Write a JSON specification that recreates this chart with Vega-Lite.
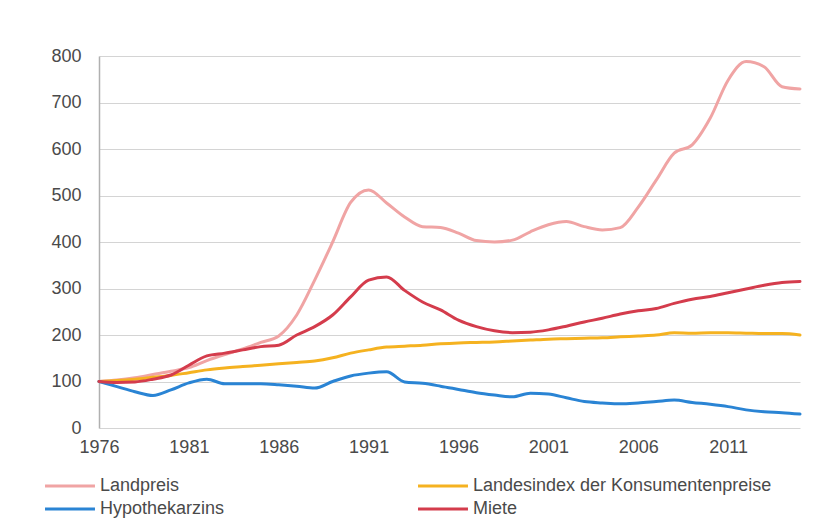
{
  "$schema": "https://vega.github.io/schema/vega-lite/v6.json",
  "autosize": "none",
  "width": 701,
  "height": 372,
  "padding": {"left": 99, "top": 56, "right": 30, "bottom": 96},
  "background": "white",
  "config": {
    "font": "Liberation Sans",
    "view": {"stroke": null}
  },
  "data": {"values": [
    {"year":1976,"Landpreis":100,"Landesindex der Konsumentenpreise":100,"Hypothekarzins":100,"Miete":100},
    {"year":1977,"Landpreis":103,"Landesindex der Konsumentenpreise":102,"Hypothekarzins":89,"Miete":98},
    {"year":1978,"Landpreis":108,"Landesindex der Konsumentenpreise":105,"Hypothekarzins":78,"Miete":99},
    {"year":1979,"Landpreis":115,"Landesindex der Konsumentenpreise":109,"Hypothekarzins":70,"Miete":105},
    {"year":1980,"Landpreis":122,"Landesindex der Konsumentenpreise":113,"Hypothekarzins":82,"Miete":114},
    {"year":1981,"Landpreis":130,"Landesindex der Konsumentenpreise":119,"Hypothekarzins":97,"Miete":135},
    {"year":1982,"Landpreis":145,"Landesindex der Konsumentenpreise":125,"Hypothekarzins":105,"Miete":155},
    {"year":1983,"Landpreis":158,"Landesindex der Konsumentenpreise":129,"Hypothekarzins":95,"Miete":161},
    {"year":1984,"Landpreis":170,"Landesindex der Konsumentenpreise":132,"Hypothekarzins":95,"Miete":168},
    {"year":1985,"Landpreis":184,"Landesindex der Konsumentenpreise":135,"Hypothekarzins":95,"Miete":175},
    {"year":1986,"Landpreis":198,"Landesindex der Konsumentenpreise":138,"Hypothekarzins":93,"Miete":178},
    {"year":1987,"Landpreis":243,"Landesindex der Konsumentenpreise":141,"Hypothekarzins":90,"Miete":200},
    {"year":1988,"Landpreis":318,"Landesindex der Konsumentenpreise":144,"Hypothekarzins":86,"Miete":218},
    {"year":1989,"Landpreis":400,"Landesindex der Konsumentenpreise":151,"Hypothekarzins":100,"Miete":243},
    {"year":1990,"Landpreis":485,"Landesindex der Konsumentenpreise":161,"Hypothekarzins":112,"Miete":282},
    {"year":1991,"Landpreis":512,"Landesindex der Konsumentenpreise":168,"Hypothekarzins":118,"Miete":318},
    {"year":1992,"Landpreis":484,"Landesindex der Konsumentenpreise":174,"Hypothekarzins":121,"Miete":325},
    {"year":1993,"Landpreis":454,"Landesindex der Konsumentenpreise":176,"Hypothekarzins":99,"Miete":296},
    {"year":1994,"Landpreis":433,"Landesindex der Konsumentenpreise":178,"Hypothekarzins":96,"Miete":271},
    {"year":1995,"Landpreis":431,"Landesindex der Konsumentenpreise":181,"Hypothekarzins":90,"Miete":254},
    {"year":1996,"Landpreis":419,"Landesindex der Konsumentenpreise":183,"Hypothekarzins":83,"Miete":232},
    {"year":1997,"Landpreis":403,"Landesindex der Konsumentenpreise":184,"Hypothekarzins":76,"Miete":218},
    {"year":1998,"Landpreis":400,"Landesindex der Konsumentenpreise":185,"Hypothekarzins":71,"Miete":209},
    {"year":1999,"Landpreis":404,"Landesindex der Konsumentenpreise":187,"Hypothekarzins":67,"Miete":205},
    {"year":2000,"Landpreis":422,"Landesindex der Konsumentenpreise":189,"Hypothekarzins":75,"Miete":206},
    {"year":2001,"Landpreis":437,"Landesindex der Konsumentenpreise":191,"Hypothekarzins":73,"Miete":211},
    {"year":2002,"Landpreis":444,"Landesindex der Konsumentenpreise":192,"Hypothekarzins":65,"Miete":219},
    {"year":2003,"Landpreis":433,"Landesindex der Konsumentenpreise":193,"Hypothekarzins":57,"Miete":228},
    {"year":2004,"Landpreis":426,"Landesindex der Konsumentenpreise":194,"Hypothekarzins":54,"Miete":236},
    {"year":2005,"Landpreis":431,"Landesindex der Konsumentenpreise":196,"Hypothekarzins":52,"Miete":245},
    {"year":2006,"Landpreis":475,"Landesindex der Konsumentenpreise":198,"Hypothekarzins":54,"Miete":252},
    {"year":2007,"Landpreis":533,"Landesindex der Konsumentenpreise":200,"Hypothekarzins":57,"Miete":257},
    {"year":2008,"Landpreis":591,"Landesindex der Konsumentenpreise":205,"Hypothekarzins":60,"Miete":268},
    {"year":2009,"Landpreis":609,"Landesindex der Konsumentenpreise":204,"Hypothekarzins":55,"Miete":277},
    {"year":2010,"Landpreis":666,"Landesindex der Konsumentenpreise":205,"Hypothekarzins":51,"Miete":283},
    {"year":2011,"Landpreis":748,"Landesindex der Konsumentenpreise":205,"Hypothekarzins":46,"Miete":291},
    {"year":2012,"Landpreis":788,"Landesindex der Konsumentenpreise":204,"Hypothekarzins":39,"Miete":299},
    {"year":2013,"Landpreis":777,"Landesindex der Konsumentenpreise":203,"Hypothekarzins":35,"Miete":307},
    {"year":2014,"Landpreis":734,"Landesindex der Konsumentenpreise":203,"Hypothekarzins":33,"Miete":313},
    {"year":2015,"Landpreis":729,"Landesindex der Konsumentenpreise":200,"Hypothekarzins":30,"Miete":315}
  ]},
  "transform": [
    {"fold": ["Landpreis", "Landesindex der Konsumentenpreise", "Hypothekarzins", "Miete"], "as": ["series", "value"]}
  ],
  "mark": {"type": "line", "interpolate": "monotone", "strokeWidth": 3, "strokeCap": "round"},
  "encoding": {
    "x": {
      "field": "year", "type": "quantitative",
      "scale": {"domain": [1976, 2015], "nice": false, "zero": false},
      "axis": {
        "title": null, "values": [1976, 1981, 1986, 1991, 1996, 2001, 2006, 2011],
        "format": "d", "grid": false, "ticks": false, "domain": false,
        "labelFontSize": 18, "labelColor": "#4a4a4a", "labelPadding": 10,
        "labelFlush": false
      }
    },
    "y": {
      "field": "value", "type": "quantitative",
      "scale": {"domain": [0, 800], "nice": false},
      "axis": {
        "title": null, "values": [0, 100, 200, 300, 400, 500, 600, 700, 800],
        "grid": true, "gridColor": "#d4d4d4", "gridWidth": 1,
        "ticks": false, "domain": true, "domainColor": "#b0b0b0", "domainWidth": 1.5,
        "labelFontSize": 18, "labelColor": "#4a4a4a", "labelPadding": 18
      }
    },
    "color": {
      "field": "series", "type": "nominal",
      "sort": ["Landpreis", "Landesindex der Konsumentenpreise", "Hypothekarzins", "Miete"],
      "scale": {
        "domain": ["Landpreis", "Landesindex der Konsumentenpreise", "Hypothekarzins", "Miete"],
        "range": ["#f0a4a4", "#f5b220", "#2a84d4", "#d43c4c"]
      },
      "legend": {
        "title": null, "orient": "none", "legendX": -38, "legendY": 421,
        "direction": "horizontal", "columns": 2, "columnPadding": 187, "rowPadding": 5,
        "symbolType": "M-4,0H4", "symbolSize": 156, "symbolStrokeWidth": 3,
        "labelFontSize": 18, "labelColor": "#4a4a4a", "labelOffset": 21, "labelLimit": 400
      }
    }
  }
}
